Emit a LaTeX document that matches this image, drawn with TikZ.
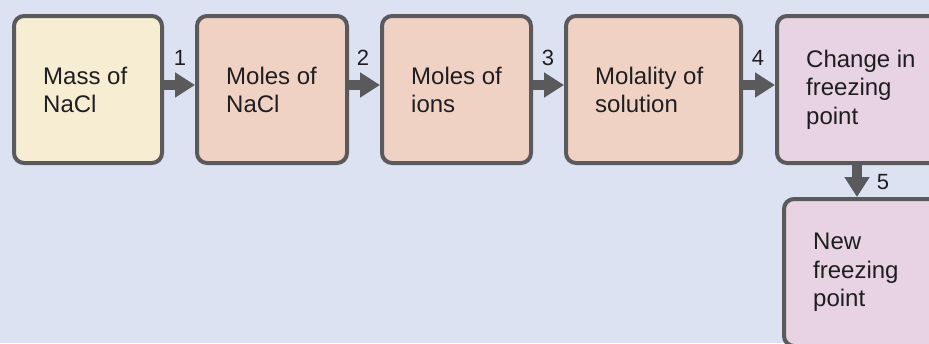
\documentclass[tikz,border=0pt]{standalone}
\usepackage{fontspec}
\setmainfont{Liberation Sans}
\usetikzlibrary{arrows.meta,calc}
\definecolor{bgc}{RGB}{221,226,243}
\definecolor{creamc}{RGB}{247,237,211}
\definecolor{peachc}{RGB}{240,210,196}
\definecolor{pinkc}{RGB}{231,211,226}
\definecolor{edgec}{RGB}{90,90,92}
\definecolor{txtc}{RGB}{30,30,32}
\tikzset{
  box/.style={draw=edgec, line width=4pt, rounded corners=10pt, minimum height=147pt, inner sep=0pt},
  txt/.style={anchor=west, align=left, inner sep=0pt, text=txtc, font=\fontsize{24}{28.3}\selectfont},
  num/.style={inner sep=0pt, text=txtc, font=\fontsize{22}{26}\selectfont},
  flow/.style={draw=edgec, line width=10pt, -{Triangle[length=20pt,width=24pt]}}
}
\begin{document}
\begin{tikzpicture}[x=1pt,y=-1pt]
\useasboundingbox (0,0) rectangle (929,343);
\fill[bgc] (0,0) rectangle (929,343);
\clip (0,0) rectangle (929,343);
\node[box, fill=creamc, minimum width=148pt] (b1) at (88,89.5) {};
\node[box, fill=peachc, minimum width=150pt] (b2) at (272,89.5) {};
\node[box, fill=peachc, minimum width=149pt] (b3) at (456.5,89.5) {};
\node[box, fill=peachc, minimum width=175pt] (b4) at (653.5,89.5) {};
\node[box, fill=pinkc, minimum width=175pt] (b5) at (864.5,89.5) {};
\node[box, fill=pinkc, minimum width=175pt] (b6) at (871.5,272.5) {};
\node[txt] (t1) at ([xshift=31pt,yshift=-0.5pt]b1.west) {Mass of\\NaCl};
\node[txt] (t2) at ([xshift=31pt,yshift=-0.5pt]b2.west) {Moles of\\NaCl};
\node[txt] (t3) at ([xshift=31pt,yshift=-0.5pt]b3.west) {Moles of\\ions};
\node[txt] (t4) at ([xshift=31pt,yshift=-0.5pt]b4.west) {Molality of\\solution};
\node[txt] (t5) at ([xshift=31pt]b5.west) {Change in\\freezing\\point};
\node[txt] (t6) at ([xshift=31pt]b6.west) {New\\freezing\\point};
\draw[flow] ([yshift=4.5pt]b1.east) -- ([yshift=4.5pt]b2.west);
\draw[flow] ([yshift=4.5pt]b2.east) -- ([yshift=4.5pt]b3.west);
\draw[flow] ([yshift=4.5pt]b3.east) -- ([yshift=4.5pt]b4.west);
\draw[flow] ([yshift=4.5pt]b4.east) -- ([yshift=4.5pt]b5.west);
\coordinate (c5) at (857,0);
\draw[flow] (c5 |- b5.south) -- (c5 |- b6.north);
\node[num] (n1) at (180,58) {1};
\node[num] (n2) at (363,58) {2};
\node[num] (n3) at (548,58) {3};
\node[num] (n4) at (758,58) {4};
\node[num] (n5) at (883,182) {5};
\end{tikzpicture}
\end{document}
